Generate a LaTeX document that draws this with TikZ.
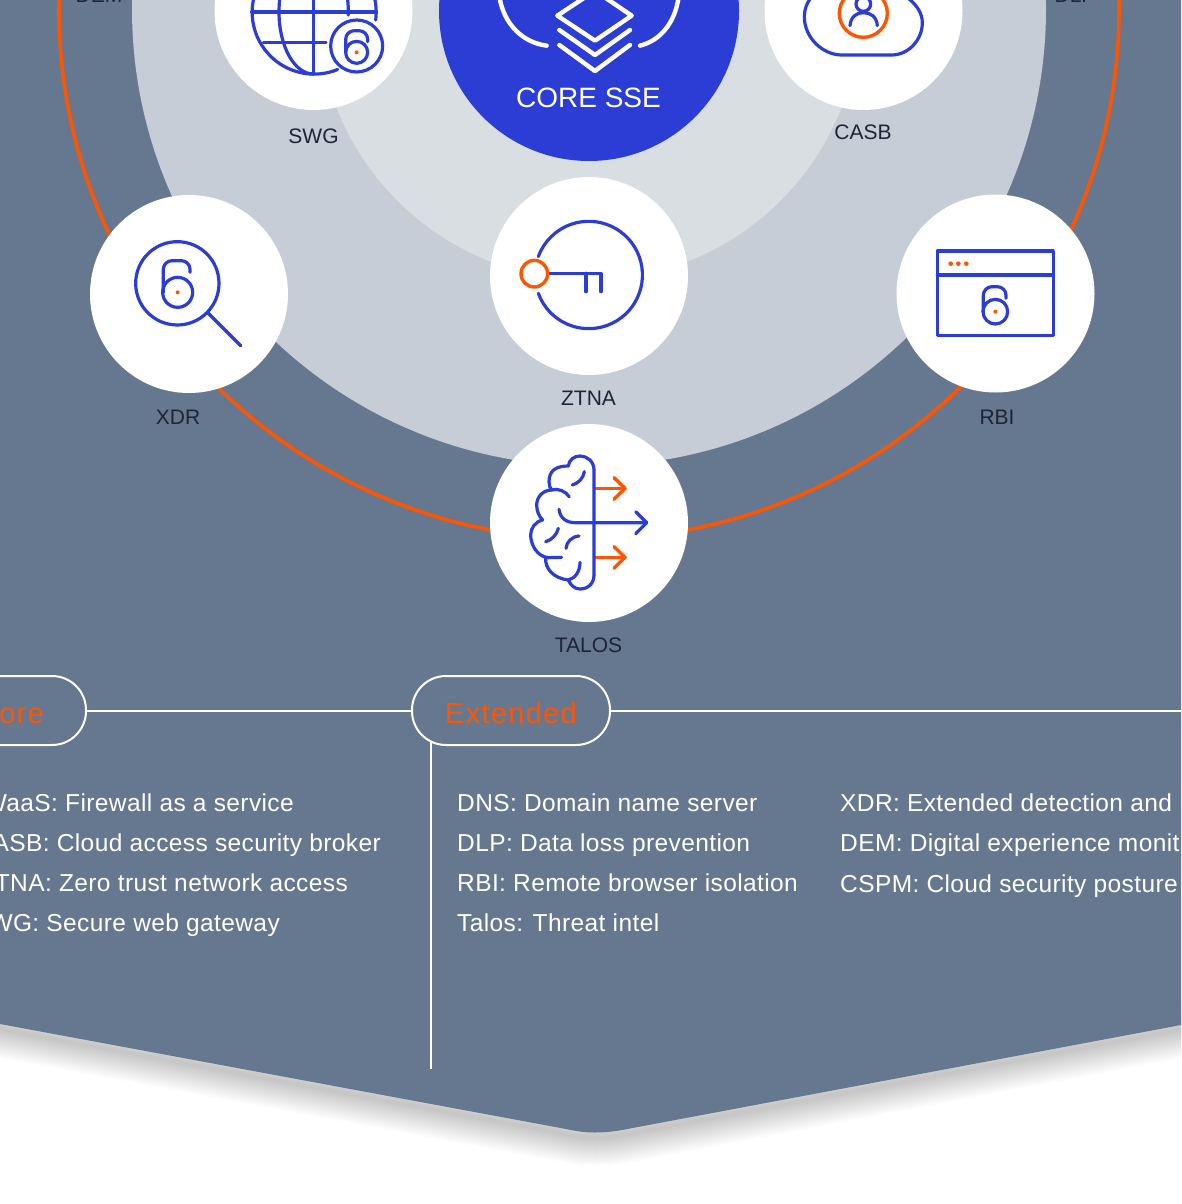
\documentclass[tikz,border=0pt]{standalone}
\usepackage{fontspec}
\setmainfont{Liberation Sans}
\newfontfamily\spacedfam[LetterSpace=1.6]{Liberation Sans}
\newfontfamily\widefam[LetterSpace=4.5]{Liberation Sans}
\definecolor{slate}{HTML}{66788F}
\definecolor{ringgray}{HTML}{C6CDD7}
\definecolor{innergray}{HTML}{D9DEE3}
\definecolor{coreblue}{HTML}{2B3DD4}
\definecolor{hotorange}{HTML}{FF5500}
\definecolor{inkdark}{HTML}{1D2438}
\tikzset{
  icon/.style={draw=coreblue,line width=3.2pt,line cap=round,line join=round},
  iconorange/.style={draw=hotorange,line width=3.4pt,line cap=round,line join=round},
  coreicon/.style={draw=white,line width=4.4pt,line cap=round,line join=round},
  lbl/.style={text=inkdark,font=\fontsize{21}{25}\selectfont,inner sep=0pt},
  item/.style={text=white,font=\spacedfam\fontsize{24.5}{28}\selectfont,inner sep=0pt,anchor=base west},
  itemr/.style={text=white,font=\spacedfam\fontsize{24.5}{28}\selectfont,inner sep=0pt,anchor=base east},
  pill/.style={draw=white,line width=2pt,rounded corners=34pt,minimum height=69pt,inner sep=0pt},
  rule/.style={draw=white,line width=2pt},
  disc/.style={circle,fill=white,minimum size=198pt,inner sep=0pt}
}
\newcommand{\lockshape}[8]{%
  \draw[icon] (#1,#2) circle[radius=#3];
  \draw[icon] (#4,#5) -- (#4,{#6+26}) arc[start angle=0,end angle=-90,radius=26] -- ({#7+26},#6) arc[start angle=-90,end angle=-180,radius=26] -- (#7,#2);
  \fill[hotorange] (#1,#2) circle[radius=#8];
}
\begin{document}
\begin{tikzpicture}[x=1pt,y=1pt,yscale=-1]
\useasboundingbox (0,0) rectangle (1181,1204);
\clip (0,0) rectangle (1181,1204);
\fill[white] (0,0) rectangle (1181,1204);
% shadow under the panel
\foreach \w in {4,8,...,56}{
  \draw[black,opacity=0.016,line width=\w pt,line join=round]
    (-60,1018) -- (566,1134) .. controls (578,1136.5) and (585,1137.5) .. (595,1137.5) .. controls (607,1137.5) and (618,1136) .. (630,1133.5) -- (1241,1018);
}
% panel
\fill[slate] (0,0) -- (1181,0) -- (1181,1025) -- (630,1128.5) .. controls (618,1131) and (607,1132.5) .. (595,1132.5) .. controls (585,1132.5) and (578,1131.5) .. (566,1129) -- (0,1024) -- cycle;
% concentric discs
\fill[ringgray] (589,9) circle[radius=457];
\fill[innergray] (589,9) circle[radius=271];
\draw[hotorange,line width=3.6pt] (589,9) circle[radius=530];
\fill[coreblue] (589,11) circle[radius=150];
% white discs
\node[disc] (swg) at (313.5,11) {};
\node[disc] (casb) at (863.5,11) {};
\node[disc] (ztna) at (589,276) {};
\node[disc] (xdr) at (189,294) {};
\node[disc] (rbi) at (995.5,293.5) {};
\node[disc] (talos) at (589,523) {};
% labels
\node[lbl] (lswg) at (313.5,136) {SWG};
\node[lbl] (lcasb) at (863,132) {CASB};
\node[lbl] (lztna) at (588.5,398) {ZTNA};
\node[lbl] (lxdr) at (178,417) {XDR};
\node[lbl] (lrbi) at (997,417) {RBI};
\node[lbl] (ltalos) at (588.5,645) {TALOS};
\node[lbl] (ldem) at (99,-5) {DEM};
\node[lbl] (ldlp) at (1075,-5) {DLP};
\node[text=white,font=\fontsize{28}{33}\selectfont,inner sep=0pt] (lcore) at (588.5,98) {CORE SSE};
% core icon
\begin{scope}[shift={(400,0)},scale=1/3]
  \draw[coreicon] (585,-28) -- (695,47) -- (585,122) -- (472,47) -- cycle;
  \draw[coreicon] (478,90) -- (585,165) -- (690,90);
  \draw[coreicon] (478,135) -- (585,213) -- (690,135);
  \draw[coreicon] (440,137) .. controls (370,128) and (312,75) .. (298,-10);
  \draw[coreicon] (720,137) .. controls (780,122) and (825,70) .. (836,-10);
\end{scope}
% ZTNA icon
\begin{scope}[shift={(480,180)},scale=1/3]
  \draw[icon] (175,340) arc[start angle=160,end angle=-160,radius=161];
  \draw[icon] (208,280) -- (363,280) -- (363,335);
  \draw[icon] (318,280) -- (318,335);
  \draw[iconorange] (163,281) circle[radius=40];
\end{scope}
% TALOS icon
\begin{scope}[shift={(500,440)},scale=1/3]
  \draw[iconorange] (285,145) -- (375,145);
  \draw[iconorange] (342,113) -- (375,145) -- (342,178);
  \draw[iconorange] (285,352) -- (375,352);
  \draw[iconorange] (342,320) -- (375,352) -- (342,385);
  \draw[icon] (282,405) -- (282,90) .. controls (282,65) and (262,48) .. (240,48) .. controls (222,48) and (207,60) .. (205,78) .. controls (170,78) and (147,90) .. (147,125) .. controls (147,135) and (150,145) .. (155,150);
  \draw[icon] (208,170) .. controls (197,155) and (175,143) .. (155,150) .. controls (130,150) and (110,170) .. (110,195) .. controls (110,215) and (118,230) .. (128,240) .. controls (105,245) and (92,265) .. (92,285) .. controls (92,315) and (112,350) .. (145,353) -- (185,352);
  \draw[icon] (137,355) .. controls (135,385) and (160,415) .. (205,420) .. controls (225,415) and (240,395) .. (240,367);
  \draw[icon] (205,420) .. controls (212,437) and (225,447) .. (240,447) .. controls (265,447) and (282,430) .. (282,405);
  \draw[icon] (253,95) .. controls (250,115) and (235,130) .. (217,135);
  \draw[icon] (175,265) .. controls (170,285) and (155,300) .. (137,305);
  \draw[icon] (237,288) .. controls (215,290) and (200,305) .. (198,325);
  \draw[icon] (177,208) .. controls (180,235) and (200,248) .. (225,248) -- (440,248);
  \draw[icon] (407,215) -- (440,248) -- (407,281);
\end{scope}
% XDR icon
\begin{scope}[shift={(100,210)},scale=1/3]
  \draw[icon] (232,220) circle[radius=125];
  \draw[icon] (325,310) -- (422,407);
  \lockshape{233}{247}{45}{270}{187}{152}{190}{6}
\end{scope}
% RBI icon
\begin{scope}[shift={(910,220)},scale=1/3]
  \draw[icon] (82,93) rectangle (430,347);
  \draw[icon] (82,165) -- (430,165);
  \fill[hotorange] (122,131) circle[radius=7] (145,131) circle[radius=7] (169,131) circle[radius=7];
  \lockshape{256}{275}{37}{288}{235}{200}{220}{6}
\end{scope}
% SWG icon
\begin{scope}[shift={(200,0)},scale=1/3]
  \draw[icon] (527,60) arc[start angle=7.3,end angle=-292.3,radius=186];
  \draw[icon] (155,36) -- (527,36);
  \draw[icon] (190,127) -- (378,127);
  \draw[icon] (340,-150) -- (340,222);
  \draw[icon] (340,222) arc[start angle=90,end angle=270,x radius=103,y radius=186];
  \draw[icon] (445,45) -- (445,36) arc[start angle=0,end angle=-90,x radius=105,y radius=186];
  \draw[icon] (470,138) circle[radius=78];
  \lockshape{470}{157}{33}{503}{125}{92}{437}{6}
\end{scope}
% CASB icon
\begin{scope}[shift={(760,0)},scale=1/3]
  \draw[icon] (160,-15) .. controls (140,5) and (133,30) .. (133,50) .. controls (133,115) and (190,165) .. (245,165) -- (395,165) .. controls (445,165) and (487,120) .. (487,68) .. controls (487,40) and (470,15) .. (445,-5);
  \draw[iconorange] (310,40) circle[radius=72];
  \draw[icon] (310,12) circle[radius=22];
  \draw[icon] (270,77) .. controls (272,50) and (290,38) .. (310,38) .. controls (332,38) and (350,50) .. (352,77);
\end{scope}
% legend
\node[pill,minimum width=198pt] (corepill) at (-13,710.5) {};
\node[pill,minimum width=198pt] (extpill) at (511,710.5) {};
\node[text=hotorange,font=\widefam\fontsize{29}{33}\selectfont,inner sep=0pt] (lext) at (511,713) {Extended};
\node[text=hotorange,font=\widefam\fontsize{29}{33}\selectfont,inner sep=0pt,anchor=base east] (lcorep) at (44,723) {ore};
\coordinate (railend) at (1181,710.5);
\coordinate (droptop) at (430.5,741);
\coordinate (dropend) at (430.5,1069);
\draw[rule] (corepill.east) -- (extpill.west);
\draw[rule] (extpill.east) -- (railend);
\draw[rule] (droptop) -- (dropend);
\node[itemr] (a1) at (294,811) {WaaS: Firewall as a service};
\node[itemr] (a2) at (381,851) {ASB: Cloud access security broker};
\node[itemr] (a3) at (348,891) {TNA: Zero trust network access};
\node[itemr] (a4) at (280,931) {WG: Secure web gateway};
\node[item] (b1) at (457,811) {DNS: Domain name server};
\node[item] (b2) at (457,851) {DLP: Data loss prevention};
\node[item] (b3) at (457,891) {RBI: Remote browser isolation};
\node[item] (b4) at (457,931) {Talos: Threat intel};
\node[item] (c1) at (840,811) {XDR: Extended detection and};
\node[item] (c2) at (840,851) {DEM: Digital experience monit};
\node[item] (c3) at (840,892) {CSPM: Cloud security posture};
\end{tikzpicture}
\end{document}
